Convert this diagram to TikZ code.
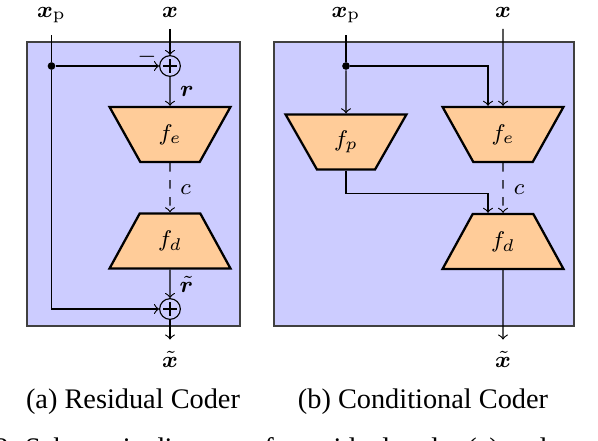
\documentclass[tikz,border=0pt]{standalone}
\usepackage[no-math]{fontspec}
\setmainfont{Liberation Serif}
\usepackage{bm}
\usetikzlibrary{shapes,arrows}

\begin{document}
\begin{tikzpicture}[x=0.353pt, y=-0.353pt,
	panel/.style={rectangle, draw=black!75, line width=0.7pt, fill=blue!20},
	coder/.style={trapezium, draw, thick, fill=orange!40, trapezium stretches=true, minimum width=42.7pt, minimum height=19.4pt, inner sep=0pt, font=\footnotesize},
	enc/.style={coder, trapezium angle=120.55},
	dec/.style={coder, trapezium angle=59.45},
	lbl/.style={font=\footnotesize, anchor=base, inner sep=4pt},
	dot/.style={circle, fill, inner sep=0pt, minimum size=2.7pt},
	sumnode/.style={circle, draw, inner sep=0pt, minimum size=7.3pt,
		path picture={\draw[line width=0.7pt] ([xshift=-2.3pt]path picture bounding box.center) -- ([xshift=2.3pt]path picture bounding box.center) ([yshift=-2.3pt]path picture bounding box.center) -- ([yshift=2.3pt]path picture bounding box.center);}},
	captext/.style={font=\normalsize, inner sep=0pt}]
	\useasboundingbox (0,0) rectangle (598,440);
	\clip (0,0) rectangle (598,440);
	
	% (a) Residual coder
	\node[panel, minimum width=75.2pt, minimum height=100.3pt] (boxa) at (133.5,184) {};
	\node[lbl] (xpa) at (51.5,17) {$\bm{x}_\mathrm{p}$};
	\node[lbl] (xa) at (170,17) {$\bm{x}$};
	\node[dot] (dota) at (51.5,66) {};
	\node[sumnode] (suma) at (170,66) {};
	\node[lbl, anchor=center] at (147,57) {$-$};
	\node[enc] (fea) at (170,134.5) {$f_e$};
	\node[lbl] at (187,96) {$\bm{r}$};
	\node[dec] (fda) at (170,241) {$f_d$};
	\node[lbl] at (185.5,194) {$c$};
	\node[lbl] at (186.5,292) {$\tilde{\bm{r}}$};
	\node[sumnode] (sumb) at (170,309) {};
	\node[lbl] (xhata) at (170,367) {$\tilde{\bm{x}}$};
	
	\draw (xpa) -- (dota);
	\draw[->] (dota) -- (suma);
	\draw[->] (dota) |- (sumb);
	\draw[->] (xa) -- (suma);
	\draw[->] (suma) -- (fea);
	\draw[->, dashed] (fea) -- (fda);
	\draw[->] (fda) -- (sumb);
	\draw[->] (sumb) -- (xhata);
	
	\node[captext] at (133,402) {(a) Residual Coder};
	
	% (b) Conditional coder
	\node[panel, minimum width=105.9pt, minimum height=100.3pt] (boxb) at (424,184) {};
	\node[lbl] (xpb) at (346,17) {$\bm{x}_\mathrm{p}$};
	\node[lbl] (xb) at (503,17) {$\bm{x}$};
	\node[dot] (dotb) at (346,66) {};
	\node[enc] (fp) at (346,142) {$f_p$};
	\node[enc] (feb) at (503,134.5) {$f_e$};
	\node[dec] (fdb) at (503,241.5) {$f_d$};
	\node[lbl] at (519,194) {$c$};
	\node[lbl] (xhatb) at (503,367) {$\tilde{\bm{x}}$};
	
	\draw (xpb) -- (dotb);
	\draw[->] (dotb) -- (fp);
	\draw[->] (dotb) -| ([xshift=-5.3pt]feb.north);
	\draw[->] (xb) -- (feb);
	\draw[->] (fp.south) -- ++(0,23) -| ([xshift=-5.3pt]fdb.north);
	\draw[->, dashed] (feb) -- (fdb);
	\draw[->] (fdb) -- (xhatb);
	
	\node[captext] at (423,402) {(b) Conditional Coder};
	
	% Figure caption (cut off)
	\node[captext, anchor=base west] at (-6,457) {2. Schematic diagram of a residual coder (a) and a conditional coder (b).};
\end{tikzpicture}
\end{document}
